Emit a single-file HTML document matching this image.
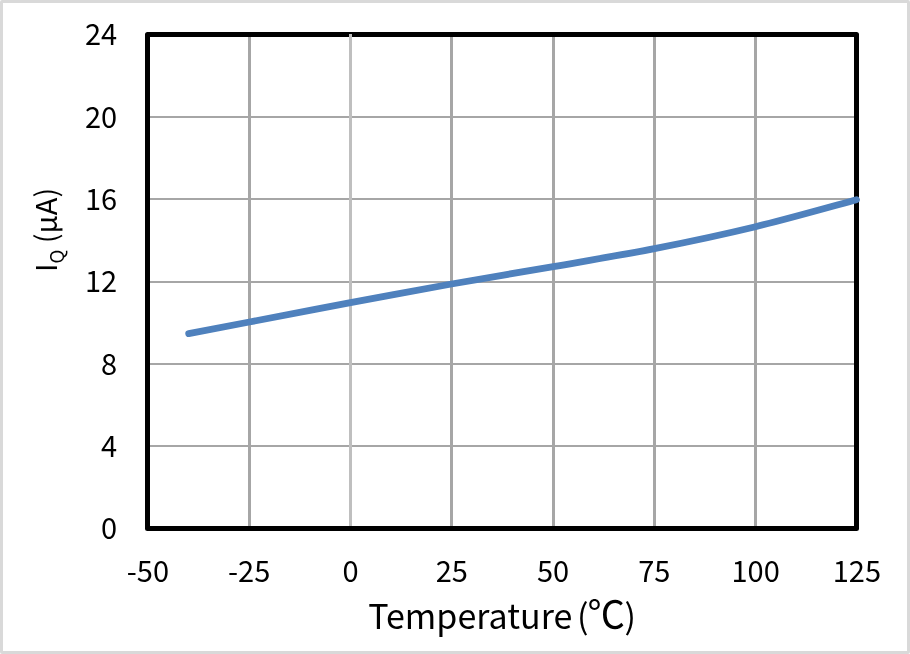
<!DOCTYPE html>
<html lang="en">
<head>
<meta charset="utf-8">
<title>IQ vs Temperature</title>
<style>
html,body{margin:0;padding:0;background:#fff;}
body{width:910px;height:654px;overflow:hidden;position:relative;}
#frame{position:absolute;left:0;top:0;width:910px;height:654px;box-sizing:border-box;border:3px solid #d9d9d9;border-radius:2px;background:#fff;}
svg{position:absolute;left:0;top:0;display:block;}
text{font-family:'Noto Sans CJK JP', 'Liberation Sans', sans-serif;fill:#000;}
.tick{font-size:29px;}
.xt{font-size:34px;}
.yt{font-size:29px;}
</style>
</head>
<body>
<div id="frame"></div>
<svg width="910" height="654" viewBox="0 0 910 654">
<g fill="#a6a6a6">
<rect x="150" y="116" width="704" height="2"/>
<rect x="150" y="198" width="704" height="2"/>
<rect x="150" y="281" width="704" height="2"/>
<rect x="150" y="363" width="704" height="2"/>
<rect x="150" y="445" width="704" height="2"/>
<rect x="248" y="37" width="3" height="489"/>
<rect x="450" y="37" width="3" height="489"/>
<rect x="552" y="37" width="3" height="489"/>
<rect x="653" y="37" width="3" height="489"/>
<rect x="754" y="37" width="3" height="489"/>
</g>
<rect x="147.5" y="34.5" width="709" height="494" fill="none" stroke="#000" stroke-width="5" stroke-linejoin="round"/>
<rect x="349" y="34" width="3" height="492" fill="#bfbfbf"/>
<path d="M188.70 333.60 C198.82 331.67 222.43 327.17 249.40 322.00 C276.37 316.83 316.82 308.93 350.50 302.60 C384.18 296.27 417.70 290.00 451.50 284.00 C485.30 278.00 519.47 272.50 553.30 266.60 C587.13 260.70 620.80 255.25 654.50 248.60 C688.20 241.95 721.83 234.85 755.50 226.70 C789.17 218.55 839.67 204.20 856.50 199.70" fill="none" stroke="#4f81bd" stroke-width="6.8" stroke-linecap="round" stroke-linejoin="round"/>
<g class="tick" text-anchor="end">
<text x="117.20" y="45.20">24</text>
<text x="117.20" y="127.53">20</text>
<text x="117.20" y="209.87">16</text>
<text x="117.20" y="292.20">12</text>
<text x="117.20" y="374.53">8</text>
<text x="117.20" y="456.87">4</text>
<text x="117.20" y="539.20">0</text>
</g>
<g class="tick" text-anchor="middle">
<text x="147.90" y="582.30">-50</text>
<text x="249.19" y="582.30">-25</text>
<text x="350.47" y="582.30">0</text>
<text x="451.76" y="582.30">25</text>
<text x="553.04" y="582.30">50</text>
<text x="654.33" y="582.30">75</text>
<text x="755.61" y="582.30">100</text>
<text x="856.90" y="582.30">125</text>
</g>
<text class="xt" x="368.20" y="628.55"><tspan letter-spacing="0">Temperature</tspan><tspan dx="-3"> (</tspan><tspan font-size="37.5" dx="-1.0" dy="-0.5">℃</tspan><tspan dx="-0.5" dy="0.5">)</tspan></text>
<text class="yt" transform="translate(57.20 272.00) rotate(-90)">I<tspan font-size="18.5" dy="6.5">Q</tspan><tspan dy="-6.5"> (µA)</tspan></text>
</svg>
</body>
</html>
